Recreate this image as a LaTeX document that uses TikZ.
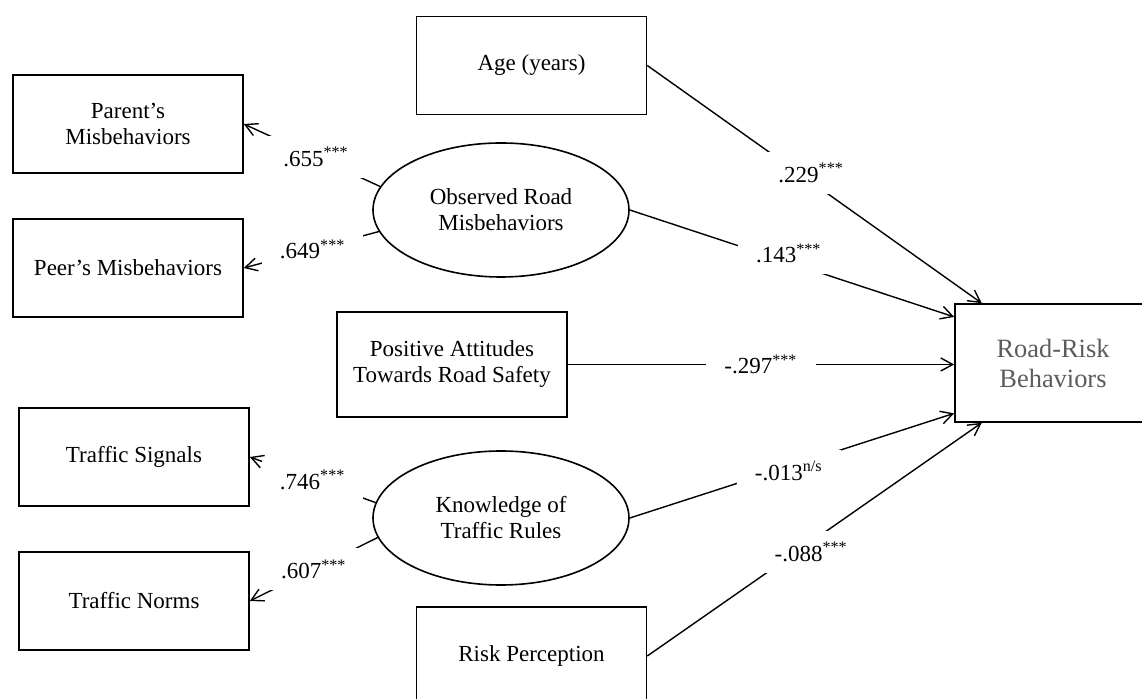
\documentclass[tikz,border=0pt]{standalone}
\usepackage{fontspec}
\setmainfont{Liberation Serif}
\usetikzlibrary{arrows.meta,shapes.geometric}
\definecolor{outgray}{HTML}{5C5C5C}

\begin{document}
\begin{tikzpicture}[x=0.5pt,y=-0.5pt,
    font=\fontsize{11.5}{13}\selectfont,
    box/.style={draw,line width=0.8pt,minimum width=115pt,minimum height=49pt,align=center,inner sep=0pt},
    latent/.style={draw,ellipse,line width=0.8pt,minimum width=128pt,minimum height=67pt,align=center,inner sep=0pt},
    path/.style={line width=0.7pt,-{Straight Barb[length=6pt,width=6.5pt]}},
    coef/.style={fill=white,inner xsep=9pt,inner ysep=5.5pt}]
        % Frame of the figure
        \useasboundingbox (0,0) rectangle (1142,699);
        \clip (0,0) rectangle (1142,699);

        % Observed indicators
        \node[box] (parent) at (128,124) {Parent's\\Misbehaviors};
        \node[box] (peer) at (128,268) {Peer's Misbehaviors};
        \node[box] (signals) at (134,457) {Traffic Signals};
        \node[box] (norms) at (134,601) {Traffic Norms};

        % Predictors
        \node[box] (age) at (531.5,65.5) {Age (years)};
        \node[box,minimum height=52.5pt] (attitudes) at (452,364.5) {Positive Attitudes\\Towards Road Safety};
        \node[box] (risk) at (531.5,656) {Risk Perception};

        % Latent factors
        \node[latent] (obs) at (501,210) {Observed Road\\Misbehaviors};
        \node[latent] (know) at (501,518) {Knowledge of\\Traffic Rules};

        % Outcome
        \node[box,minimum width=98pt,minimum height=59pt,text=outgray,
              font=\fontsize{13.2}{15}\selectfont] (rrb) at (1053,363) {Road-Risk\\Behaviors};

        % Loadings
        \draw[path] (obs.169) -- node[coef,pos=0.47]{.655\textsuperscript{***}} (parent.east);
        \draw[path] (obs.190) -- node[coef,pos=0.49]{.649\textsuperscript{***}} (peer.east);
        \draw[path] (know.173) -- node[coef]{.746\textsuperscript{***}} (signals.east);
        \draw[path] (know.189) -- node[coef]{.607\textsuperscript{***}} (norms.east);

        % Paths to the outcome
        \draw[path] (age.east) -- node[coef,pos=0.49,yshift=4.5pt]{.229\textsuperscript{***}} (rrb.140);
        \draw[path] (obs.east) -- node[coef,pos=0.49,yshift=4.5pt]{.143\textsuperscript{***}} (rrb.155);
        \draw[path] (attitudes.east) -- node[coef]{-.297\textsuperscript{***}} (attitudes.east -| rrb.west);
        \draw[path] (know.east) -- node[coef,pos=0.49,yshift=-2pt]{-.013\textsuperscript{n/s}} (rrb.207);
        \draw[path] (risk.east) -- node[coef,pos=0.49,yshift=-5pt]{-.088\textsuperscript{***}} (rrb.220);
\end{tikzpicture}
\end{document}
